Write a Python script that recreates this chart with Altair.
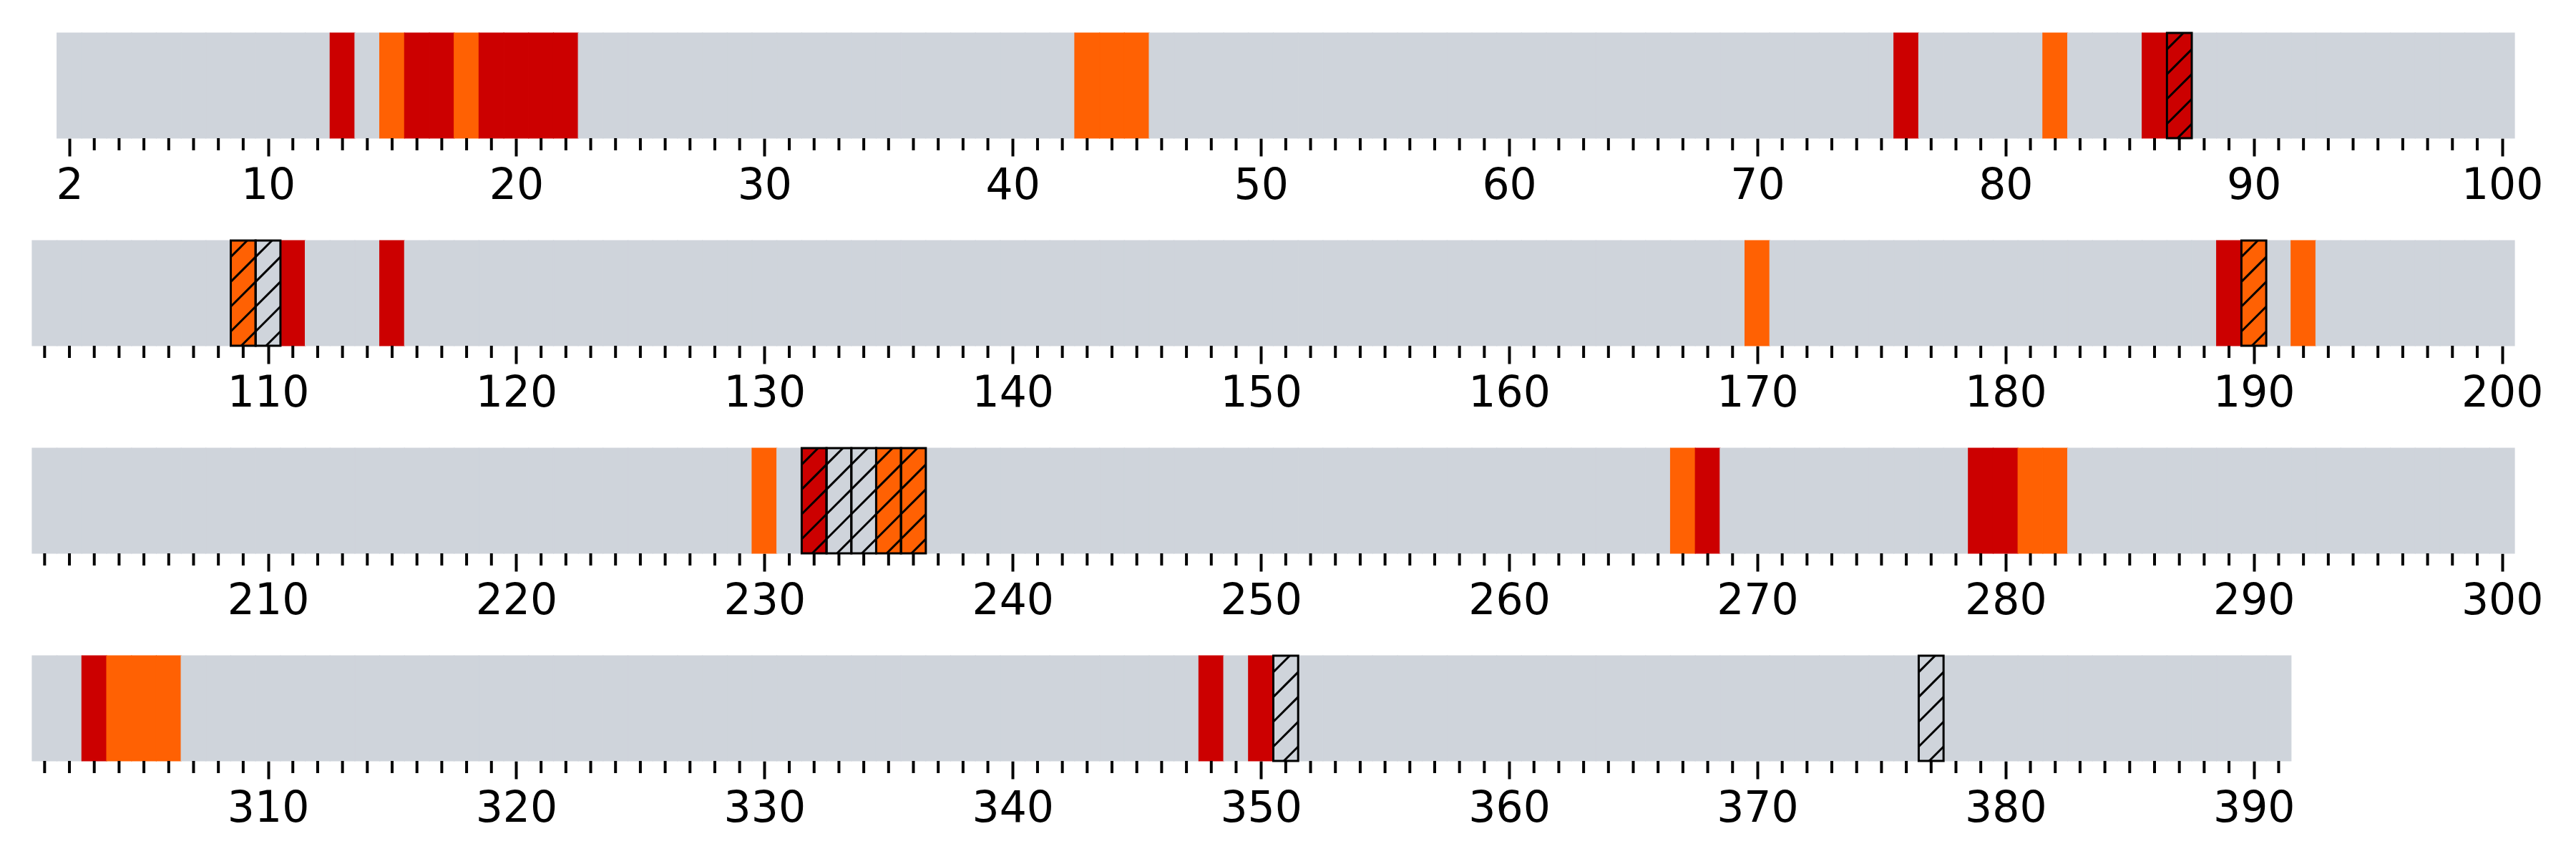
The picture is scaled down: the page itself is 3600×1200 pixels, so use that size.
import math
import altair as alt
import pandas as pd

# ---------------- data ----------------
row_ranges = [(2, 100), (101, 200), (201, 300), (301, 391)]
row_domain_starts = [0.5, 100.5, 200.5, 300.5]
major_ticks = [
    [2, 10, 20, 30, 40, 50, 60, 70, 80, 90, 100],
    [110, 120, 130, 140, 150, 160, 170, 180, 190, 200],
    [210, 220, 230, 240, 250, 260, 270, 280, 290, 300],
    [310, 320, 330, 340, 350, 360, 370, 380, 390],
]
red_pos = [13, 16, 17, 19, 20, 21, 22, 76, 86, 111, 115, 189, 268, 279, 280, 303, 348, 350]
orange_pos = [15, 18, 43, 44, 45, 82, 170, 192, 230, 267, 281, 282, 304, 305, 306]
hatched_red = [87, 232]
hatched_orange = [109, 190, 235, 236]
hatched_gray = [110, 233, 234, 351, 377]

categories = ["none", "red", "orange"]
palette = ["#cfd4db", "#cc0000", "#ff6103"]

# ---------------- layout constants ----------------
UNITS = 100
UNIT_PX = 34.69
PANEL_W = round(UNITS * UNIT_PX)
PANEL_H = 147
HATCH_STEP = 34.69
HATCH_PHASE = 20.0
FONT = "DejaVu Sans"


def category(p):
    if p in red_pos or p in hatched_red:
        return "red"
    if p in orange_pos or p in hatched_orange:
        return "orange"
    return "none"


hatched_all = set(hatched_red + hatched_orange + hatched_gray)


def hatch_segments(p, d0):
    ua = (p - 0.5 - d0) * UNIT_PX
    ub = ua + UNIT_PX
    segs = []
    kmin = math.floor((-ub - HATCH_PHASE) / HATCH_STEP) - 1
    kmax = math.ceil((PANEL_H - ua - HATCH_PHASE) / HATCH_STEP) + 1
    for k in range(kmin, kmax + 1):
        c = k * HATCH_STEP + HATCH_PHASE
        u1 = max(ua, -c)
        u2 = min(ub, PANEL_H - c)
        if u2 - u1 > 0.5:
            segs.append(dict(hx=d0 + u1 / UNIT_PX, hx2=d0 + u2 / UNIT_PX,
                             hy=(u1 + c) / PANEL_H, hy2=(u2 + c) / PANEL_H))
    return segs


def row_chart(i):
    start, end = row_ranges[i]
    d0 = row_domain_starts[i]
    majors = major_ticks[i]
    cells = pd.DataFrame({"pos": list(range(start, end + 1))})
    cells["x"] = cells["pos"] - 0.5
    cells["x2"] = cells["pos"] + 0.5
    cells["lo"] = 0.0
    cells["hi"] = 1.0
    cells["cat"] = [category(p) for p in cells["pos"]]
    cells["hatched"] = [p in hatched_all for p in cells["pos"]]

    xscale = alt.Scale(domain=[d0, d0 + UNITS], nice=False, zero=False)
    yscale = alt.Scale(domain=[0, 1], nice=False, zero=False)
    cscale = alt.Scale(domain=categories, range=palette)
    xaxis = alt.Axis(values=majors, tickSize=25, tickWidth=4, tickColor="black",
                     domain=False, grid=False, title=None,
                     labelFont=FONT, labelFontSize=60, labelColor="black",
                     labelPadding=12, labelFlush=False, labelOverlap=False,
                     minExtent=100, maxExtent=100)

    base = alt.Chart(cells).mark_rect(strokeWidth=1.2).encode(
        x=alt.X("x:Q", scale=xscale, axis=xaxis),
        x2="x2:Q",
        y=alt.Y("lo:Q", scale=yscale, axis=None),
        y2="hi:Q",
        color=alt.Color("cat:N", scale=cscale, legend=None),
        stroke=alt.Stroke("cat:N", scale=cscale, legend=None),
    )

    minor = pd.DataFrame({"pos": [p for p in range(start, end + 1) if p not in majors]})
    minor_ticks = alt.Chart(minor).mark_rule(color="black", strokeWidth=4).encode(
        x=alt.X("pos:Q", scale=xscale, axis=xaxis),
        y=alt.value(PANEL_H),
        y2=alt.value(PANEL_H + 17),
    )

    layers = [base, minor_ticks]

    hrows = []
    for p in range(start, end + 1):
        if p in hatched_all:
            hrows.extend(hatch_segments(p, d0))
    if hrows:
        hdf = pd.DataFrame(hrows)
        hatch = alt.Chart(hdf).mark_rule(color="black", strokeWidth=3).encode(
            x=alt.X("hx:Q", scale=xscale, axis=xaxis),
            x2="hx2:Q",
            y=alt.Y("hy:Q", scale=yscale, axis=None),
            y2="hy2:Q",
        )
        outline = alt.Chart(cells).transform_filter("datum.hatched").mark_rect(
            filled=False, stroke="black", strokeWidth=3
        ).encode(
            x=alt.X("x:Q", scale=xscale, axis=xaxis),
            x2="x2:Q",
            y=alt.Y("lo:Q", scale=yscale, axis=None),
            y2="hi:Q",
        )
        layers += [hatch, outline]

    return alt.layer(*layers).properties(width=PANEL_W, height=PANEL_H)


chart = alt.vconcat(*[row_chart(i) for i in range(4)], spacing=41).properties(
    padding={"left": 44, "top": 44, "right": 10, "bottom": 5},
    background="white",
).configure_view(strokeWidth=0)

chart.save("out.html", embed_options={"renderer": "svg", "actions": False})
